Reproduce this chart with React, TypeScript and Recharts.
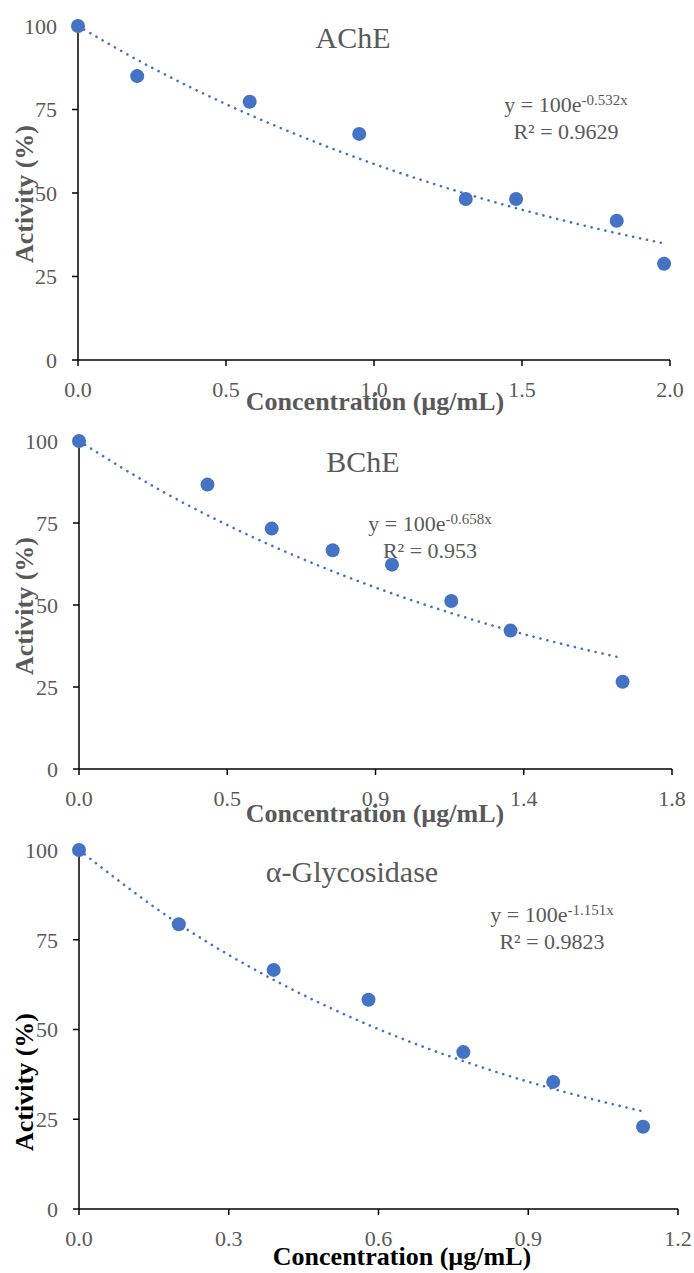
import React from "react";
import { ComposedChart, Line, Scatter, XAxis, YAxis } from "recharts";

// ---------- data ----------
const acheX = [0, 0.2, 0.58, 0.95, 1.31, 1.48, 1.82, 1.98];
const acheY = [100, 85, 77.3, 67.7, 48.2, 48.2, 41.7, 28.8];
const acheTrendX = [0, 0.25, 0.5, 0.75, 1.0, 1.25, 1.5, 1.75, 1.98];
const acheTrendY = [100, 87.5, 76.6, 67.1, 58.7, 51.4, 45.0, 39.4, 34.9];
const acheTicks = [0, 0.5, 1.0, 1.5, 2.0];
const acheTickLabels = ["0.0", "0.5", "1.0", "1.5", "2.0"];

const bcheX = [0, 0.39, 0.585, 0.77, 0.95, 1.13, 1.31, 1.65];
const bcheY = [100, 86.7, 73.3, 66.7, 62.3, 51.2, 42.2, 26.6];
const bcheTrendX = [0, 0.25, 0.5, 0.75, 1.0, 1.25, 1.5, 1.65];
const bcheTrendY = [100, 84.8, 72.0, 61.1, 51.8, 43.9, 37.3, 33.8];
const bcheTicks = [0, 0.45, 0.9, 1.35, 1.8];
const bcheTickLabels = ["0.0", "0.5", "0.9", "1.4", "1.8"];

const glucX = [0, 0.2, 0.39, 0.58, 0.77, 0.95, 1.13];
const glucY = [100, 79.3, 66.6, 58.3, 43.7, 35.4, 22.9];
const glucTrendX = [0, 0.2, 0.4, 0.6, 0.8, 1.0, 1.13];
const glucTrendY = [100, 79.4, 63.1, 50.1, 39.8, 31.6, 27.2];
const glucTicks = [0, 0.3, 0.6, 0.9, 1.2];
const glucTickLabels = ["0.0", "0.3", "0.6", "0.9", "1.2"];

const yTicks = [0, 25, 50, 75, 100];

const zip = (xs: number[], ys: number[]) => xs.map((x, i) => ({ x, y: ys[i] }));

const BLUE = "#4472C4";
const GREY = "#595959";
const FONT = "'Liberation Serif', 'Times New Roman', serif";

type PanelProps = {
  top: number;
  height: number;
  margin: { top: number; right: number; left: number; bottom: number };
  points: { x: number; y: number }[];
  trend: { x: number; y: number }[];
  xMax: number;
  xTicks: number[];
  xLabels: string[];
};

const Dot = (props: any) => {
  const { cx, cy } = props;
  if (cx == null || cy == null) return null;
  return <circle cx={cx} cy={cy} r={7} fill={BLUE} />;
};

const tickStyle = { fill: GREY, fontSize: 22, fontFamily: FONT };

function Panel({ top, height, margin, points, trend, xMax, xTicks, xLabels }: PanelProps) {
  return (
    <div style={{ position: "absolute", left: 0, top, width: 694, height }}>
      <ComposedChart width={694} height={height} margin={margin}>
        <XAxis
          type="number"
          dataKey="x"
          domain={[0, xMax]}
          ticks={xTicks}
          interval={0}
          height={30}
          tickFormatter={(v: number, i: number) => xLabels[i] ?? String(v)}
          axisLine={{ stroke: "#000", strokeWidth: 1.5 }}
          tickLine={{ stroke: "#000", strokeWidth: 1.5 }}
          tickSize={6}
          tickMargin={15}
          tick={tickStyle}
        />
        <YAxis
          type="number"
          dataKey="y"
          domain={[0, 100]}
          ticks={yTicks}
          interval={0}
          width={60}
          axisLine={{ stroke: "#000", strokeWidth: 1.5 }}
          tickLine={{ stroke: "#000", strokeWidth: 1.5 }}
          tickSize={6}
          tickMargin={15}
          tick={tickStyle}
        />
        <Line
          data={trend}
          dataKey="y"
          type="monotone"
          stroke={BLUE}
          strokeWidth={2.6}
          strokeDasharray="0.1 7"
          strokeLinecap="round"
          dot={false}
          activeDot={false}
          isAnimationActive={false}
        />
        <Scatter data={points} dataKey="y" fill={BLUE} shape={<Dot />} isAnimationActive={false} />
      </ComposedChart>
    </div>
  );
}

function Eq({ x, y, coef, r2 }: { x: number; y: number; coef: string; r2: string }) {
  return (
    <g fill={GREY} fontFamily={FONT} fontSize={22} textAnchor="middle">
      <text x={x} y={y}>
        y = 100e<tspan fontSize={15} dy={-7}>{coef}</tspan>
      </text>
      <text x={x} y={y + 27}>R² = {r2}</text>
    </g>
  );
}

export default function App() {
  return (
    <div style={{ position: "absolute", left: 0, top: 0, width: 694, height: 1273, background: "#fff", overflow: "hidden" }}>
      <Panel
        top={0}
        height={425}
        margin={{ top: 26, right: 24, left: 18, bottom: 35 }}
        points={zip(acheX, acheY)}
        trend={zip(acheTrendX, acheTrendY)}
        xMax={2}
        xTicks={acheTicks}
        xLabels={acheTickLabels}
      />
      <Panel
        top={415}
        height={420}
        margin={{ top: 26, right: 22, left: 19, bottom: 36 }}
        points={zip(bcheX, bcheY)}
        trend={zip(bcheTrendX, bcheTrendY)}
        xMax={1.8}
        xTicks={bcheTicks}
        xLabels={bcheTickLabels}
      />
      <Panel
        top={835}
        height={438}
        margin={{ top: 15, right: 16, left: 19, bottom: 34 }}
        points={zip(glucX, glucY)}
        trend={zip(glucTrendX, glucTrendY)}
        xMax={1.2}
        xTicks={glucTicks}
        xLabels={glucTickLabels}
      />
      <svg
        width={694}
        height={1273}
        style={{ position: "absolute", left: 0, top: 0, pointerEvents: "none" }}
      >
        {/* Panel 1 */}
        <text x={353} y={48} textAnchor="middle" fontFamily={FONT} fontSize={30} fill={GREY}>AChE</text>
        <Eq x={566} y={112} coef="-0.532x" r2="0.9629" />
        <text x={375} y={410} textAnchor="middle" fontFamily={FONT} fontSize={26} fontWeight="bold" fill={GREY}>Concentration (µg/mL)</text>
        <text transform="translate(33,194) rotate(-90)" textAnchor="middle" fontFamily={FONT} fontSize={26} fontWeight="bold" fill={GREY}>Activity (%)</text>

        {/* Panel 2 */}
        <text x={363} y={472} textAnchor="middle" fontFamily={FONT} fontSize={30} fill={GREY}>BChE</text>
        <Eq x={430} y={531} coef="-0.658x" r2="0.953" />
        <text x={375} y={822} textAnchor="middle" fontFamily={FONT} fontSize={26} fontWeight="bold" fill={GREY}>Concentration (µg/mL)</text>
        <text transform="translate(33,606) rotate(-90)" textAnchor="middle" fontFamily={FONT} fontSize={26} fontWeight="bold" fill={GREY}>Activity (%)</text>

        {/* Panel 3 */}
        <text x={352} y={882} textAnchor="middle" fontFamily={FONT} fontSize={30} fill={GREY}>α-Glycosidase</text>
        <Eq x={552} y={922} coef="-1.151x" r2="0.9823" />
        <text x={402} y={1265} textAnchor="middle" fontFamily={FONT} fontSize={26} fontWeight="bold" fill="#000">Concentration (µg/mL)</text>
        <text transform="translate(33,1082) rotate(-90)" textAnchor="middle" fontFamily={FONT} fontSize={26} fontWeight="bold" fill="#000">Activity (%)</text>
      </svg>
    </div>
  );
}
